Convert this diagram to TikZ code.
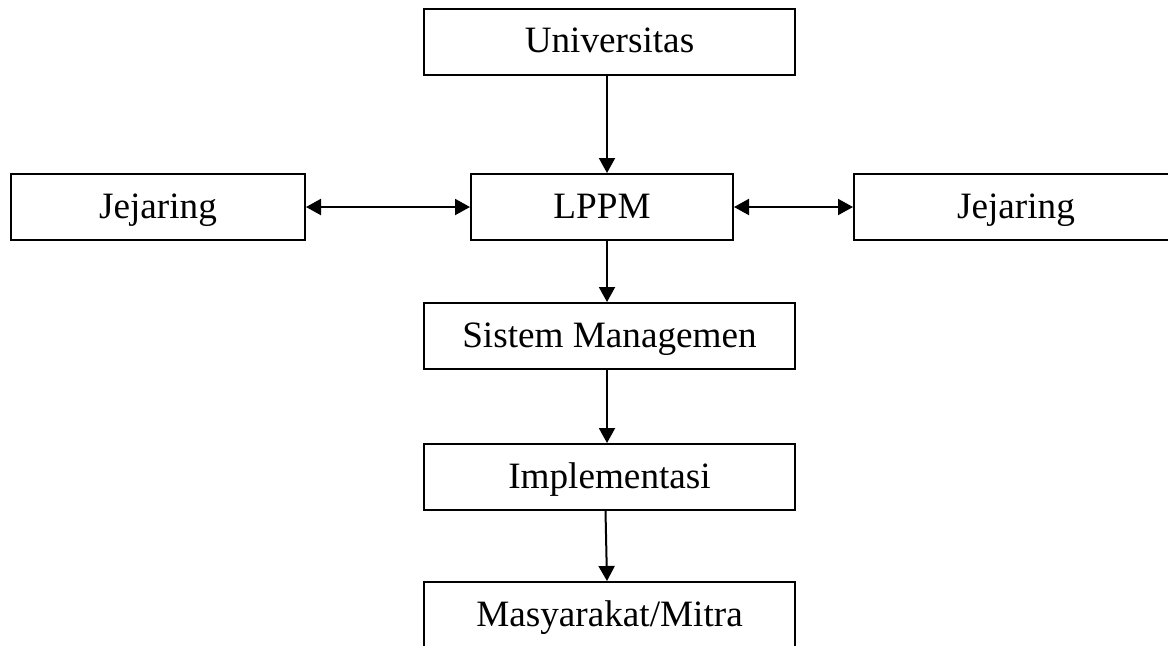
\documentclass[tikz,border=0pt]{standalone}
\usepackage{fontspec}
\setmainfont{Liberation Serif}
\usetikzlibrary{arrows.meta}
\usetikzlibrary{positioning}

\tikzset{
  kotak/.style={draw, line width=1pt, minimum height=33pt, inner sep=0pt,
    text height=15pt, text depth=4pt, font=\fontsize{18.6}{22}\selectfont},
  panah/.style={line width=1pt, -{Triangle[length=7.5pt,width=8pt]}},
  panahdua/.style={line width=1pt, {Triangle[length=7.5pt,width=8pt]}-{Triangle[length=7.5pt,width=8pt]}}
}

\begin{document}
\begin{tikzpicture}[x=0.5pt, y=-0.5pt]
        \useasboundingbox (0, 0) rectangle (1168, 645);
        \node[kotak, minimum width=185.5pt] (univ) at (609.5, 41.5) {Universitas};
        \node[kotak, minimum width=131pt] (lppm) at (602, 207) {LPPM};
        \node[kotak, minimum width=147pt] (jejkiri) at (158, 207) {Jejaring};
        \node[kotak, minimum width=162pt] (jejkanan) at (1016, 207) {Jejaring};
        \node[kotak, minimum width=185.5pt] (sistem) at (609.5, 336) {Sistem Managemen};
        \node[kotak, minimum width=185.5pt] (impl) at (609.5, 477) {Implementasi};
        \node[kotak, minimum width=185.5pt] (masy) at (609.5, 615) {Masyarakat/Mitra};
        \draw[panah] ([xshift=-1.25pt]univ.south) -- ([xshift=-1.25pt]univ.south |- lppm.north);
        \draw[panahdua] (jejkiri) -- (lppm);
        \draw[panahdua] (lppm) -- (jejkanan);
        \draw[panah] ([xshift=-1.25pt]univ.south |- lppm.south) -- ([xshift=-1.25pt]sistem.north);
        \draw[panah] ([xshift=-1.25pt]sistem.south) -- ([xshift=-1.25pt]impl.north);
        \draw[panah] ([xshift=-2pt]impl.south) -- ([xshift=-1.25pt]masy.north);
      \end{tikzpicture}
\end{document}
